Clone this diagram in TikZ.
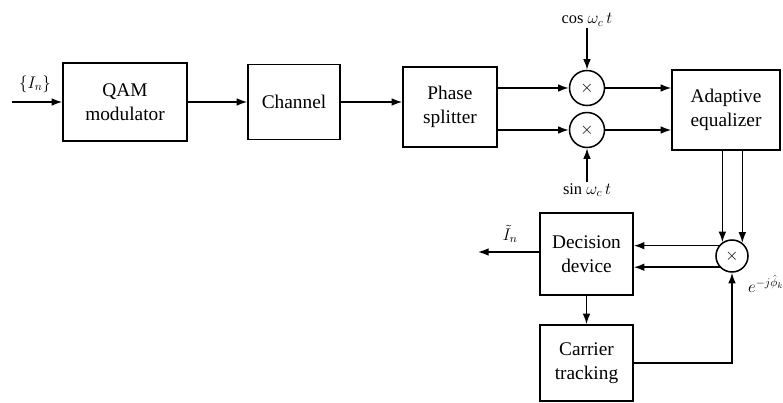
\documentclass[tikz,border=0pt]{standalone}
\usepackage{fontspec}
\setmainfont{Liberation Serif}
\usepackage{amsmath}
\usetikzlibrary{arrows.meta,positioning,calc}

\tikzset{
  block/.style={draw, line width=1.3pt, align=center, inner sep=2pt,
    font=\fontsize{16.5}{20}\selectfont},
  mixer/.style={draw, circle, line width=1.3pt, minimum size=1.05cm, inner sep=0pt,
    font=\Large},
  sig/.style={line width=1.3pt, -{Latex[length=9pt,width=6.5pt]}},
  wire/.style={line width=1.3pt},
  lbl/.style={font=\fontsize{14}{17}\selectfont, inner sep=1pt}
}

\begin{document}
\begin{tikzpicture}[x=0.03cm, y=-0.03cm]
  \useasboundingbox (0,0) rectangle (783,403);
  % forward path
  \node[block, minimum width=3.72cm, minimum height=2.34cm] (qam) at (125,102) {QAM\\modulator};
  \node[block, minimum width=2.76cm, minimum height=2.25cm] (chan) at (294,102) {Channel};
  \node[block, minimum width=2.82cm, minimum height=2.4cm] (split) at (450,107) {Phase\\splitter};
  \node[block, minimum width=3.24cm, minimum height=2.4cm] (eq) at (726,110) {Adaptive\\equalizer};
  % mixers
  \node[mixer] (mcos) at (587,88) {$\times$};
  \node[mixer] (msin) at (587,130) {$\times$};
  \node[mixer, minimum size=0.96cm] (mrot) at (732,256) {$\times$};
  % receiver back end
  \node[block, minimum width=2.79cm, minimum height=2.46cm] (dec) at (586.5,254) {Decision\\device};
  \node[block, minimum width=2.79cm, minimum height=2.28cm] (trk) at (586.5,363) {Carrier\\tracking};
  % labels and free ends
  \coordinate (in) at (12,102);
  \coordinate (out) at (478,252);
  \node[lbl] (cos) at (587,20) {cos $\omega_c\,t$};
  \node[lbl] (sin) at (587,190) {sin $\omega_c\,t$};
  \node[lbl] (inlbl) at (35,84) {$\{I_n\}$};
  \node[lbl] (outlbl) at (510,234) {$\tilde{I}_n$};
  \node[lbl] (phlbl) at (766,284) {$e^{-j\hat{\phi}_k}$};

  \draw[sig] (in) -- (qam);
  \draw[sig] (qam) -- (chan);
  \draw[sig] (chan.east) -- (chan.east -| split.west);
  \draw[sig] (split.east |- mcos) -- (mcos);
  \draw[sig] (split.east |- msin) -- (msin);
  \draw[sig] (mcos) -- (mcos -| eq.west);
  \draw[sig] (msin) -- (msin -| eq.west);
  \draw[sig] (cos) -- (mcos);
  \draw[sig] (sin) -- (msin);
  \draw[sig] (mrot.125 |- eq.south) -- (mrot.125);
  \draw[sig] (mrot.52 |- eq.south) -- (mrot.52);
  \draw[sig] (mrot.142) -- (mrot.142 -| dec.east);
  \draw[sig] (mrot.222) -- (mrot.222 -| dec.east);
  \draw[sig] (dec.west |- out) -- (out);
  \draw[sig] (dec) -- (trk);
  \draw[sig] (trk.east) -| (mrot);
\end{tikzpicture}
\end{document}
